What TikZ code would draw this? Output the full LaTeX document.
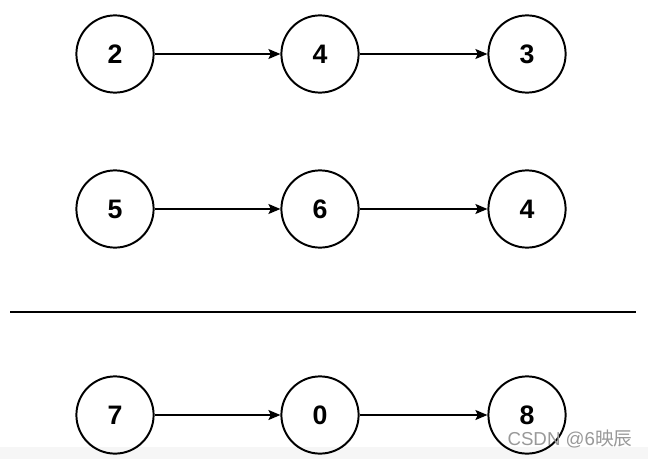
\documentclass[tikz,border=0pt]{standalone}
\usepackage{fontspec}
\setmainfont{Liberation Sans}
\newfontfamily\cjkfont{Noto Sans CJK SC}
\usetikzlibrary{positioning, arrows.meta}

\begin{document}
\begin{tikzpicture}[
  x=0.025cm, y=-0.025cm,
  listnode/.style={draw, circle, line width=1.4pt, minimum size=1.93cm, inner sep=0pt, font=\fontsize{19}{22}\selectfont\bfseries},
  linkarrow/.style={-{Stealth[length=3mm, width=2.5mm, inset=0.6mm]}, line width=1pt}
]
  \useasboundingbox (0,0) rectangle (648,459);
  \fill[gray!7] (0,447) rectangle (648,459);

  % first list
  \node[listnode] (a1) at (115,54) {2};
  \node[listnode] (a2) at (320,54) {4};
  \node[listnode] (a3) at (527,54) {3};
  \draw[linkarrow] (a1) -- (a2);
  \draw[linkarrow] (a2) -- (a3);

  % second list
  \node[listnode] (b1) at (115,209) {5};
  \node[listnode] (b2) at (320,209) {6};
  \node[listnode] (b3) at (527,209) {4};
  \draw[linkarrow] (b1) -- (b2);
  \draw[linkarrow] (b2) -- (b3);

  % separator
  \coordinate (sepl) at (10,312);
  \coordinate (sepr) at (636,312);
  \draw[line width=1.8pt] (sepl) -- (sepr);

  % sum
  \node[listnode] (c1) at (115,415) {7};
  \node[listnode] (c2) at (320,415) {0};
  \node[listnode] (c3) at (527,415) {8};
  \draw[linkarrow] (c1) -- (c2);
  \draw[linkarrow] (c2) -- (c3);

  % watermark
  \node[text=gray!80, font=\fontsize{13.3}{15}\selectfont, inner sep=0pt] (mark) at (570,439) {CSDN @6{\cjkfont 映辰}};
\end{tikzpicture}
\end{document}
